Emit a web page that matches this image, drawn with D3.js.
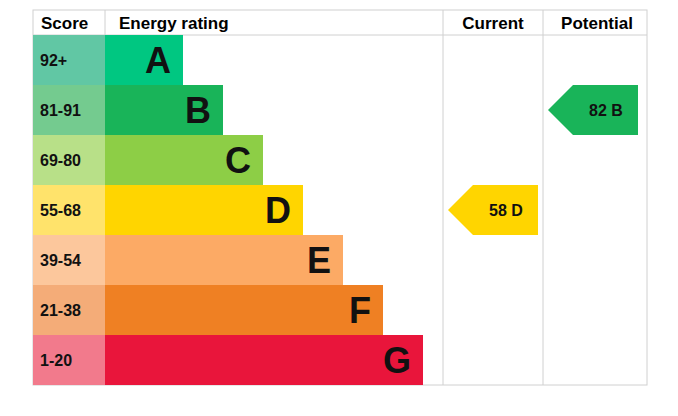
<!DOCTYPE html><html><head><script src="https://cdn.jsdelivr.net/npm/d3@7"></script>
<style>body{margin:0;background:#fff}text{font-family:"Liberation Sans",Arial,sans-serif;font-weight:bold}</style></head><body>
<svg id="c" width="678" height="416"></svg>
<script>
const bands=["A","B","C","D","E","F","G"];
const scores=["92+","81-91","69-80","55-68","39-54","21-38","1-20"];
const barColors=["#00c781","#19b459","#8dce46","#ffd500","#fcaa65","#ef8023","#e9153b"];
const scoreColors=["#61c7a4","#74cb8f","#b8e088","#ffe36b","#fcc79c","#f4ac78","#f27a8c"];
const barEnds=[183,223,263,303,343,383,423];
const current={value:58,band:"D"};
const potential={value:82,band:"B"};
const svg=d3.select("#c");
const y=d3.scaleBand().domain(bands).range([35,385]);
const grid="#d0d0d0";
svg.append("rect").attr("x",33).attr("y",10).attr("width",614).attr("height",375).attr("fill","none").attr("stroke",grid);
[105,443,543].forEach(x=>svg.append("line").attr("x1",x).attr("x2",x).attr("y1",10).attr("y2",385).attr("stroke",grid));
svg.append("line").attr("x1",33).attr("x2",647).attr("y1",35).attr("y2",35).attr("stroke",grid);
[["Score",41],["Energy rating",119]].forEach(([t,x])=>svg.append("text").attr("x",x).attr("y",29).attr("font-size",17).text(t));
[["Current",493],["Potential",597]].forEach(([t,x])=>svg.append("text").attr("x",x).attr("y",29).attr("font-size",17).attr("text-anchor","middle").text(t));
bands.forEach((b,i)=>{
 const y0=y(b),h=y.bandwidth();
 svg.append("rect").attr("x",33).attr("y",y0).attr("width",72).attr("height",h).attr("fill",scoreColors[i]);
 svg.append("text").attr("x",40).attr("y",y0+h/2+6).attr("font-size",16).attr("fill","#111").text(scores[i]);
 svg.append("rect").attr("x",105).attr("y",y0).attr("width",barEnds[i]-105).attr("height",h).attr("fill",barColors[i]);
 svg.append("text").attr("x",barEnds[i]-12).attr("y",y0+h/2+13).attr("font-size",36).attr("text-anchor","end").attr("fill","#111").text(b);
});
function arrow(r,x0){
 const i=bands.indexOf(r.band),y0=y(r.band),h=y.bandwidth(),w=90,p=25;
 svg.append("path").attr("d",`M${x0},${y0+h/2}L${x0+p},${y0}L${x0+w},${y0}L${x0+w},${y0+h}L${x0+p},${y0+h}Z`).attr("fill",barColors[i]);
 svg.append("text").attr("x",x0+p+33).attr("y",y0+h/2+6).attr("font-size",16).attr("text-anchor","middle").attr("fill","#111").text(r.value+"  "+r.band);
}
arrow(current,448);arrow(potential,548);
</script></body></html>
